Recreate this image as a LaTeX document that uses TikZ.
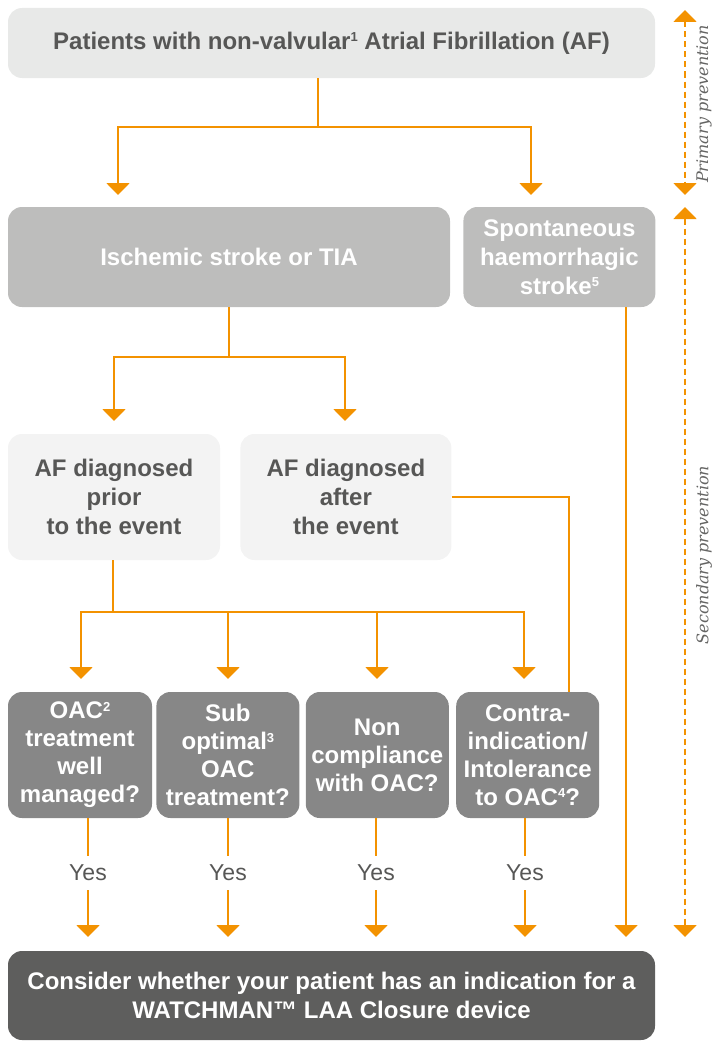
\documentclass[tikz,border=0pt]{standalone}
\usepackage{fontspec}
\setmainfont{Liberation Sans}
\newfontfamily\sidefont{DejaVu Serif}
\usetikzlibrary{positioning,arrows.meta}
\definecolor{afOrange}{RGB}{243,146,0}
\definecolor{txtGray}{RGB}{87,87,86}
\definecolor{sideGray}{RGB}{100,100,99}
\definecolor{boxLight}{RGB}{232,233,232}
\definecolor{boxPale}{RGB}{243,243,243}
\definecolor{boxMid}{RGB}{189,189,188}
\definecolor{boxQ}{RGB}{135,135,135}
\definecolor{boxDark}{RGB}{94,94,93}
\newcommand{\supnum}[1]{\raisebox{7.5pt}{\fontsize{13}{13}\selectfont #1}}
\tikzset{
	flow/.style={draw=afOrange, line width=2pt}, % plain orange connector
	arrow/.style={flow, -{Triangle[width=23pt,length=12pt]}}, % orange connector with a head
	dasharrow/.style={draw=afOrange, line width=2pt, dash pattern=on 6pt off 4pt,
		{Triangle[width=23pt,length=12pt]}-{Triangle[width=23pt,length=12pt]}}, % the prevention ranges
	box/.style={rounded corners=14pt, align=center, inner sep=0pt,
		font=\bfseries\fontsize{24}{29}\selectfont}, % every box
	topbox/.style={box, fill=boxLight, text=txtGray},
	strokebox/.style={box, fill=boxMid, text=white, minimum height=100pt},
	diagbox/.style={box, fill=boxPale, text=txtGray, minimum height=126pt},
	qbox/.style={box, fill=boxQ, text=white, minimum width=143pt, minimum height=126pt,
		font=\bfseries\fontsize{24}{28}\selectfont},
	endbox/.style={box, fill=boxDark, text=white},
	yes/.style={text=txtGray, inner xsep=0pt, inner ysep=9pt, font=\fontsize{23}{26}\selectfont},
	side/.style={text=sideGray, font=\sidefont\itshape\fontsize{16}{18}\selectfont},
}
\begin{document}
\begin{tikzpicture}[x=1pt,y=-1pt]
	\useasboundingbox (0,0) rectangle (712,1041);

	% boxes
	\node[topbox, minimum width=647pt, minimum height=70pt] at (331.5,43) (af)
		{Patients with non-valvular\supnum{1} Atrial Fibrillation (AF)};
	\node[strokebox, minimum width=442pt] at (229,257) (isch) {Ischemic stroke or TIA};
	\node[strokebox, minimum width=192pt, right=13pt of isch] (spont)
		{Spontaneous\\haemorrhagic\\stroke\supnum{5}};
	\node[diagbox, minimum width=212pt] at (114,497) (prior) {AF diagnosed\\prior\\to the event};
	\node[diagbox, minimum width=211pt, right=20pt of prior] (after) {AF diagnosed\\after\\the event};
	\node[qbox, minimum width=144pt] at (80,755) (q1) {OAC\supnum{2}\\treatment\\well\\managed?};
	\node[qbox, right=4pt of q1] (q2) {Sub\\optimal\supnum{3}\\OAC\\treatment?};
	\node[qbox, right=6pt of q2] (q3) {Non\\compliance\\with OAC?};
	\node[qbox, right=7pt of q3] (q4) {Contra-\\indication/\\Intolerance\\to OAC\supnum{4}?};
	\node[endbox, minimum width=647pt, minimum height=89pt] at (331.5,995.5) (watch)
		{Consider whether your patient has an indication for a\\WATCHMAN™ LAA Closure device};

	% Yes labels
	\node[yes] at (88,873) (y1) {Yes};
	\node[yes] at (228,873) (y2) {Yes};
	\node[yes] at (376,873) (y3) {Yes};
	\node[yes] at (525,873) (y4) {Yes};

	% side labels
	\node[side, rotate=90] at (704,104) (lprim) {Primary prevention};
	\node[side, rotate=90] at (704,555) (lsec) {Secondary prevention};

	% junctions and arrow ends
	\coordinate (j0) at (318,127);
	\coordinate (j1) at (229,357);
	\coordinate (j2) at (113,612);
	\coordinate (t1) at (118,195);
	\coordinate (t2) at (531,195);
	\coordinate (t3) at (114,421);
	\coordinate (t4) at (345,421);
	\coordinate (t5) at (81,679);
	\coordinate (t6) at (228,679);
	\coordinate (t7) at (377,679);
	\coordinate (t8) at (524,679);
	\coordinate (b1) at (88,937);
	\coordinate (b2) at (228,937);
	\coordinate (b3) at (376,937);
	\coordinate (b4) at (525,937);
	\coordinate (b5) at (626,937);
	\coordinate (p1) at (685,10);
	\coordinate (p2) at (685,195);
	\coordinate (s1) at (685,207);
	\coordinate (s2) at (685,937);

	% connectors
	\draw[flow] (af.south -| j0) -- (j0);
	\draw[arrow] (j0) -| (t1);
	\draw[arrow] (j0) -| (t2);
	\draw[flow] (isch) -- (j1);
	\draw[arrow] (j1) -| (t3);
	\draw[arrow] (j1) -| (t4);
	\draw[flow] (prior.south -| j2) -- (j2);
	\draw[arrow] (j2) -| (t5);
	\draw[arrow] (j2) -| (t6);
	\draw[arrow] (j2) -| (t7);
	\draw[arrow] (j2) -| (t8);
	\draw[flow] (after.east) -| ([xshift=41.5pt]q4.north);
	\draw[arrow] (spont.south -| b5) -- (b5);

	\draw[flow] (q1.south -| y1) -- (y1);
	\draw[flow] (q2.south -| y2) -- (y2);
	\draw[flow] (q3.south -| y3) -- (y3);
	\draw[flow] (q4.south -| y4) -- (y4);
	\draw[arrow] (y1) -- (b1);
	\draw[arrow] (y2) -- (b2);
	\draw[arrow] (y3) -- (b3);
	\draw[arrow] (y4) -- (b4);

	\draw[dasharrow] (p1) -- (p2);
	\draw[dasharrow] (s1) -- (s2);
\end{tikzpicture}
\end{document}
